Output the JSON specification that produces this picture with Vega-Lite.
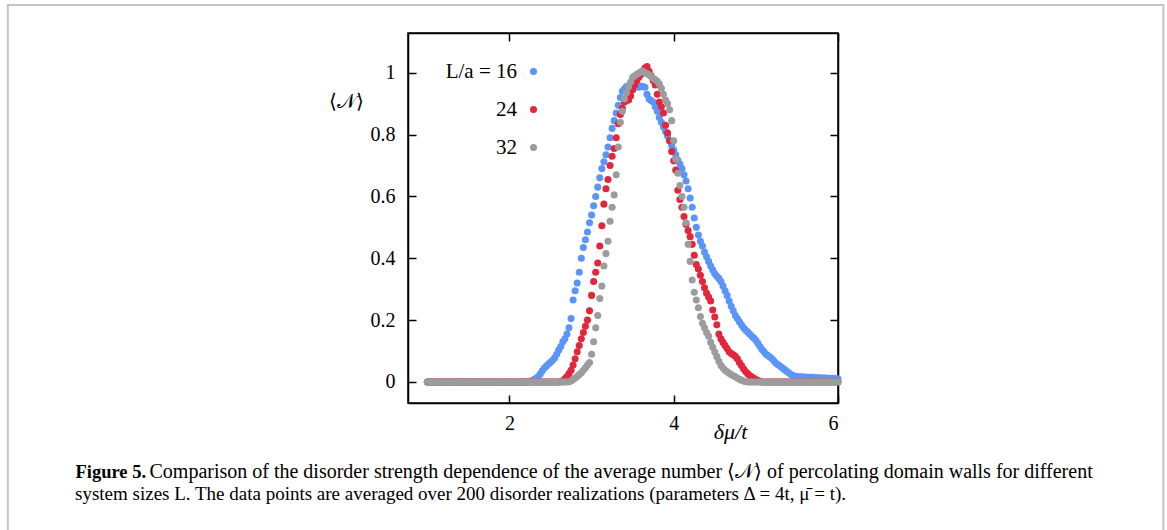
{
  "$schema": "https://vega.github.io/schema/vega-lite/v6.json",
  "width": 430,
  "height": 370,
  "autosize": "none",
  "padding": {"left": 408, "top": 33, "right": 329, "bottom": 127},
  "background": "white",
  "config": {
    "view": {"stroke": "black", "strokeWidth": 1.5},
    "axis": {"domainColor": "black", "domainWidth": 1.5, "tickColor": "black", "tickWidth": 1.5, "tickSize": -8, "grid": false, "labelFont": "Liberation Serif", "labelFontSize": 20, "labelColor": "black", "titleFont": "Liberation Serif", "titleColor": "black", "titleFontWeight": "normal", "titleLimit": 2000}
  },
  "title": {
    "text": "system sizes L. The data points are averaged over 200 disorder realizations (parameters Δ = 4t, μ̄ = t).",
    "orient": "bottom",
    "anchor": "start",
    "frame": "group",
    "font": "Liberation Serif",
    "fontSize": 19,
    "fontWeight": "normal",
    "color": "black",
    "limit": 2000,
    "dx": -333,
    "dy": -59,
    "offset": 0
  },
  "data": {"values": [
    {"x":1,"16":0,"24":0,"32":0},{"x":1.025,"16":0,"24":0,"32":0},{"x":1.05,"16":0,"24":0,"32":0},{"x":1.075,"16":0,"24":0,"32":0},{"x":1.1,"16":0,"24":0,"32":0},
    {"x":1.125,"16":0,"24":0,"32":0},{"x":1.15,"16":0,"24":0,"32":0},{"x":1.175,"16":0,"24":0,"32":0},{"x":1.2,"16":0,"24":0,"32":0},{"x":1.225,"16":0,"24":0,"32":0},
    {"x":1.25,"16":0,"24":0,"32":0},{"x":1.275,"16":0,"24":0,"32":0},{"x":1.3,"16":0,"24":0,"32":0},{"x":1.325,"16":0,"24":0,"32":0},{"x":1.35,"16":0,"24":0,"32":0},
    {"x":1.375,"16":0,"24":0,"32":0},{"x":1.4,"16":0,"24":0,"32":0},{"x":1.425,"16":0,"24":0,"32":0},{"x":1.45,"16":0,"24":0,"32":0},{"x":1.475,"16":0,"24":0,"32":0},
    {"x":1.5,"16":0,"24":0,"32":0},{"x":1.525,"16":0,"24":0,"32":0},{"x":1.55,"16":0,"24":0,"32":0},{"x":1.575,"16":0,"24":0,"32":0},{"x":1.6,"16":0,"24":0,"32":0},
    {"x":1.625,"16":0,"24":0,"32":0},{"x":1.65,"16":0,"24":0,"32":0},{"x":1.675,"16":0,"24":0,"32":0},{"x":1.7,"16":0,"24":0,"32":0},{"x":1.725,"16":0,"24":0,"32":0},
    {"x":1.75,"16":0,"24":0,"32":0},{"x":1.775,"16":0,"24":0,"32":0},{"x":1.8,"16":0,"24":0,"32":0},{"x":1.825,"16":0,"24":0,"32":0},{"x":1.85,"16":0,"24":0,"32":0},
    {"x":1.875,"16":0,"24":0,"32":0},{"x":1.9,"16":0,"24":0,"32":0},{"x":1.925,"16":0,"24":0,"32":0},{"x":1.95,"16":0,"24":0,"32":0},{"x":1.975,"16":0,"24":0,"32":0},
    {"x":2,"16":0,"24":0,"32":0},{"x":2.025,"16":0,"24":0,"32":0},{"x":2.05,"16":0,"24":0,"32":0},{"x":2.075,"16":0,"24":0,"32":0},{"x":2.1,"16":0,"24":0,"32":0},
    {"x":2.125,"16":0,"24":0,"32":0},{"x":2.15,"16":0,"24":0,"32":0},{"x":2.175,"16":0,"24":0,"32":0},{"x":2.2,"16":0,"24":0,"32":0},{"x":2.225,"16":0,"24":0,"32":0},
    {"x":2.25,"16":0.002,"24":0,"32":0},{"x":2.275,"16":0.004,"24":0,"32":0},{"x":2.3,"16":0.008,"24":0,"32":0},{"x":2.325,"16":0.012,"24":0,"32":0},{"x":2.35,"16":0.018,"24":0,"32":0},
    {"x":2.375,"16":0.026,"24":0,"32":0},{"x":2.4,"16":0.036,"24":0,"32":0},{"x":2.425,"16":0.045,"24":0,"32":0},{"x":2.45,"16":0.052,"24":0,"32":0},{"x":2.475,"16":0.058,"24":0,"32":0},
    {"x":2.5,"16":0.064,"24":0,"32":0},{"x":2.525,"16":0.07,"24":0,"32":0},{"x":2.55,"16":0.078,"24":0,"32":0},{"x":2.575,"16":0.09,"24":0,"32":0},{"x":2.6,"16":0.103,"24":0,"32":0},
    {"x":2.625,"16":0.115,"24":0.001,"32":0},{"x":2.65,"16":0.13,"24":0.004,"32":0},{"x":2.675,"16":0.14,"24":0.01,"32":0},{"x":2.7,"16":0.155,"24":0.018,"32":0},{"x":2.725,"16":0.175,"24":0.027,"32":0.001},
    {"x":2.75,"16":0.205,"24":0.038,"32":0.003},{"x":2.775,"16":0.265,"24":0.055,"32":0.008},{"x":2.8,"16":0.295,"24":0.075,"32":0.013},{"x":2.825,"16":0.32,"24":0.098,"32":0.018},{"x":2.85,"16":0.355,"24":0.118,"32":0.024},
    {"x":2.875,"16":0.4,"24":0.14,"32":0.03},{"x":2.9,"16":0.435,"24":0.16,"32":0.038},{"x":2.925,"16":0.46,"24":0.18,"32":0.046},{"x":2.95,"16":0.485,"24":0.2,"32":0.055},{"x":2.975,"16":0.515,"24":0.23,"32":0.063},
    {"x":3,"16":0.54,"24":0.28,"32":0.09},{"x":3.025,"16":0.57,"24":0.325,"32":0.13},{"x":3.05,"16":0.6,"24":0.355,"32":0.175},{"x":3.075,"16":0.63,"24":0.385,"32":0.215},{"x":3.1,"16":0.66,"24":0.44,"32":0.27},
    {"x":3.125,"16":0.69,"24":0.505,"32":0.31},{"x":3.15,"16":0.712,"24":0.575,"32":0.375},{"x":3.175,"16":0.735,"24":0.625,"32":0.415},{"x":3.2,"16":0.76,"24":0.655,"32":0.455},{"x":3.225,"16":0.79,"24":0.7,"32":0.52},
    {"x":3.25,"16":0.82,"24":0.73,"32":0.565},{"x":3.275,"16":0.845,"24":0.755,"32":0.605},{"x":3.3,"16":0.87,"24":0.79,"32":0.67},{"x":3.325,"16":0.895,"24":0.835,"32":0.76},{"x":3.35,"16":0.92,"24":0.865,"32":0.84},
    {"x":3.375,"16":0.94,"24":0.885,"32":0.875},{"x":3.4,"16":0.948,"24":0.905,"32":0.915},{"x":3.425,"16":0.955,"24":0.91,"32":0.935},{"x":3.45,"16":0.958,"24":0.912,"32":0.955},{"x":3.475,"16":0.96,"24":0.925,"32":0.97},
    {"x":3.5,"16":0.958,"24":0.945,"32":0.985},{"x":3.525,"16":0.957,"24":0.96,"32":0.99},{"x":3.55,"16":0.955,"24":0.975,"32":0.995},{"x":3.575,"16":0.953,"24":0.985,"32":0.998},{"x":3.6,"16":0.957,"24":0.995,"32":1.003},
    {"x":3.625,"16":0.955,"24":1.005,"32":1.005},{"x":3.65,"16":0.953,"24":1.015,"32":1},{"x":3.675,"16":0.93,"24":1.02,"32":0.997},{"x":3.7,"16":0.915,"24":1.005,"32":0.993},{"x":3.725,"16":0.91,"24":0.99,"32":0.988},
    {"x":3.75,"16":0.905,"24":0.975,"32":0.982},{"x":3.775,"16":0.89,"24":0.96,"32":0.978},{"x":3.8,"16":0.875,"24":0.93,"32":0.972},{"x":3.825,"16":0.855,"24":0.905,"32":0.963},{"x":3.85,"16":0.84,"24":0.89,"32":0.95},
    {"x":3.875,"16":0.825,"24":0.87,"32":0.93},{"x":3.9,"16":0.81,"24":0.83,"32":0.912},{"x":3.925,"16":0.795,"24":0.805,"32":0.9},{"x":3.95,"16":0.78,"24":0.78,"32":0.88},{"x":3.975,"16":0.765,"24":0.745,"32":0.845},
    {"x":4,"16":0.75,"24":0.715,"32":0.78},{"x":4.025,"16":0.735,"24":0.685,"32":0.72},{"x":4.05,"16":0.718,"24":0.62,"32":0.675},{"x":4.075,"16":0.705,"24":0.59,"32":0.635},{"x":4.1,"16":0.69,"24":0.565,"32":0.6},
    {"x":4.125,"16":0.67,"24":0.535,"32":0.565},{"x":4.15,"16":0.65,"24":0.51,"32":0.515},{"x":4.175,"16":0.625,"24":0.49,"32":0.445},{"x":4.2,"16":0.595,"24":0.47,"32":0.39},{"x":4.225,"16":0.565,"24":0.445,"32":0.33},
    {"x":4.25,"16":0.53,"24":0.41,"32":0.29},{"x":4.275,"16":0.5,"24":0.38,"32":0.265},{"x":4.3,"16":0.475,"24":0.365,"32":0.24},{"x":4.325,"16":0.455,"24":0.345,"32":0.212},{"x":4.35,"16":0.44,"24":0.325,"32":0.19},
    {"x":4.375,"16":0.42,"24":0.305,"32":0.175},{"x":4.4,"16":0.405,"24":0.287,"32":0.16},{"x":4.425,"16":0.39,"24":0.275,"32":0.148},{"x":4.45,"16":0.375,"24":0.262,"32":0.128},{"x":4.475,"16":0.362,"24":0.233,"32":0.112},
    {"x":4.5,"16":0.35,"24":0.21,"32":0.097},{"x":4.525,"16":0.342,"24":0.185,"32":0.082},{"x":4.55,"16":0.335,"24":0.155,"32":0.067},{"x":4.575,"16":0.325,"24":0.14,"32":0.053},{"x":4.6,"16":0.31,"24":0.128,"32":0.045},
    {"x":4.625,"16":0.295,"24":0.118,"32":0.038},{"x":4.65,"16":0.28,"24":0.108,"32":0.033},{"x":4.675,"16":0.262,"24":0.098,"32":0.028},{"x":4.7,"16":0.245,"24":0.092,"32":0.024},{"x":4.725,"16":0.23,"24":0.088,"32":0.02},
    {"x":4.75,"16":0.215,"24":0.083,"32":0.017},{"x":4.775,"16":0.205,"24":0.075,"32":0.013},{"x":4.8,"16":0.195,"24":0.063,"32":0.009},{"x":4.825,"16":0.185,"24":0.053,"32":0.006},{"x":4.85,"16":0.175,"24":0.043,"32":0.003},
    {"x":4.875,"16":0.168,"24":0.034,"32":0.001},{"x":4.9,"16":0.162,"24":0.027,"32":0},{"x":4.925,"16":0.155,"24":0.021,"32":0},{"x":4.95,"16":0.148,"24":0.016,"32":0},{"x":4.975,"16":0.142,"24":0.012,"32":0},
    {"x":5,"16":0.135,"24":0.008,"32":0},{"x":5.025,"16":0.125,"24":0.005,"32":0},{"x":5.05,"16":0.115,"24":0.002,"32":0},{"x":5.075,"16":0.105,"24":0,"32":0},{"x":5.1,"16":0.098,"24":0,"32":0},
    {"x":5.125,"16":0.09,"24":0,"32":0},{"x":5.15,"16":0.085,"24":0,"32":0},{"x":5.175,"16":0.08,"24":0,"32":0},{"x":5.2,"16":0.074,"24":0,"32":0},{"x":5.225,"16":0.066,"24":0,"32":0},
    {"x":5.25,"16":0.06,"24":0,"32":0},{"x":5.275,"16":0.055,"24":0,"32":0},{"x":5.3,"16":0.05,"24":0,"32":0},{"x":5.325,"16":0.045,"24":0,"32":0},{"x":5.35,"16":0.04,"24":0,"32":0},
    {"x":5.375,"16":0.035,"24":0,"32":0},{"x":5.4,"16":0.03,"24":0,"32":0},{"x":5.425,"16":0.025,"24":0,"32":0},{"x":5.45,"16":0.021,"24":0,"32":0},{"x":5.475,"16":0.019,"24":0,"32":0},
    {"x":5.5,"16":0.018,"24":0,"32":0},{"x":5.525,"16":0.017,"24":0,"32":0},{"x":5.55,"16":0.017,"24":0,"32":0},{"x":5.575,"16":0.016,"24":0,"32":0},{"x":5.6,"16":0.016,"24":0,"32":0},
    {"x":5.625,"16":0.015,"24":0,"32":0},{"x":5.65,"16":0.015,"24":0,"32":0},{"x":5.675,"16":0.015,"24":0,"32":0},{"x":5.7,"16":0.015,"24":0,"32":0},{"x":5.725,"16":0.014,"24":0,"32":0},
    {"x":5.75,"16":0.014,"24":0,"32":0},{"x":5.775,"16":0.014,"24":0,"32":0},{"x":5.8,"16":0.013,"24":0,"32":0},{"x":5.825,"16":0.013,"24":0,"32":0},{"x":5.85,"16":0.013,"24":0,"32":0},
    {"x":5.875,"16":0.012,"24":0,"32":0},{"x":5.9,"16":0.012,"24":0,"32":0},{"x":5.925,"16":0.012,"24":0,"32":0},{"x":5.95,"16":0.011,"24":0,"32":0},{"x":5.975,"16":0.01,"24":0,"32":0},
    {"x":6,"16":0.01,"24":0,"32":0}
  ]},
  "resolve": {"axis": {"x": "independent", "y": "independent"}},
  "layer": [
    {
      "data": {"values": [{}]},
      "mark": {"type": "rect", "fill": null, "stroke": "#c4c4c4", "strokeWidth": 2},
      "encoding": {
        "x": {"datum": -4.107, "type": "quantitative", "scale": {"domain": [0.765, 6]},
              "axis": {"orient": "top", "values": [2, 4, 6], "labels": false, "title": "Figure 5.", "titleFontWeight": "bold", "titleFontSize": 18.5, "titleAngle": 0, "titleAlign": "left", "titleBaseline": "middle", "titleX": -333, "titleY": 438}},
        "x2": {"datum": 9.961},
        "y": {"datum": 1.219, "type": "quantitative", "scale": {"domain": [-0.0679, 1.1284]},
              "axis": {"orient": "right", "values": [0, 0.2, 0.4, 0.6, 0.8, 1], "labels": false, "title": "Comparison of the disorder strength dependence of the average number ⟨𝒩⟩ of percolating domain walls for different", "titleFontSize": 20, "titleAngle": 0, "titleAlign": "left", "titleBaseline": "middle", "titleX": -689, "titleY": 438}},
        "y2": {"datum": -0.52}
      }
    },
    {
      "transform": [{"fold": ["16", "24", "32"], "as": ["L", "N"]}],
      "mark": {"type": "point", "filled": true, "size": 50, "opacity": 1},
      "encoding": {
        "x": {"field": "x", "type": "quantitative", "scale": {"domain": [0.765, 6], "nice": false, "zero": false},
              "axis": {"orient": "bottom", "values": [2, 4, 6], "labelPadding": 18, "labelBaseline": "top", "title": "δμ/t", "titleFontSize": 22, "titleFontStyle": "italic", "titleX": 322, "titleY": 28, "titleBaseline": "middle", "titleAlign": "center"}},
        "y": {"field": "N", "type": "quantitative", "scale": {"domain": [-0.0679, 1.1284], "nice": false, "zero": false},
              "axis": {"orient": "left", "values": [0, 0.2, 0.4, 0.6, 0.8, 1], "format": "~g", "labelPadding": 21, "title": "⟨𝒩⟩", "titleAngle": 0, "titleFontSize": 20, "titleX": -62, "titleY": 68, "titleBaseline": "middle", "titleAlign": "center"}},
        "color": {"field": "L", "type": "nominal",
                  "scale": {"domain": ["16", "24", "32"], "range": ["#5b95f9", "#e2273c", "#9c9c9c"]},
                  "legend": {"orient": "none", "legendX": 115, "legendY": 28, "title": null, "labelAlign": "right", "labelOffset": -27,
                             "labelExpr": "datum.label == '16' ? 'L/a = 16' : datum.label",
                             "labelFont": "Liberation Serif", "labelFontSize": 21, "labelColor": "black",
                             "symbolType": "circle", "symbolSize": 50, "symbolStrokeWidth": 0, "rowPadding": 16, "padding": 0}},
        "order": {"field": "L", "type": "ordinal", "sort": "ascending"}
      }
    }
  ]
}
